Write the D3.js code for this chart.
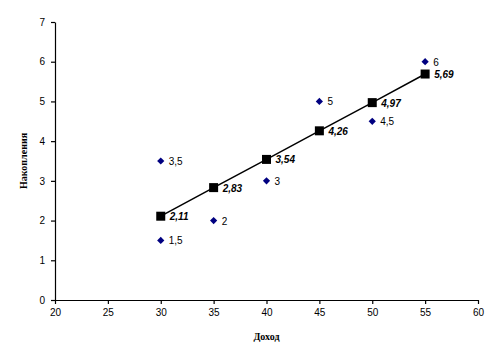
<!DOCTYPE html>
<html>
<head>
<meta charset="utf-8">
<script src="https://cdn.jsdelivr.net/npm/d3@7"></script>
<style>
  body { margin: 0; background: #fff; }
  .tick text { font-family: Arial, "Liberation Sans", sans-serif; font-size: 10px; fill: #000; }
</style>
</head>
<body>
<div id="chart"></div>
<script>
// Observed points
var obsX = [30, 30, 35, 40, 45, 50, 55];
var obsY = [3.5, 1.5, 2, 3, 5, 4.5, 6];
var obsLabels = ["3,5", "1,5", "2", "3", "5", "4,5", "6"];

// Fitted line
var fitX = [30, 35, 40, 45, 50, 55];
var fitY = [2.11, 2.83, 3.54, 4.26, 4.97, 5.69];
var fitLabels = ["2,11", "2,83", "3,54", "4,26", "4,97", "5,69"];

var xTicks = [20, 25, 30, 35, 40, 45, 50, 55, 60];
var yTicks = [0, 1, 2, 3, 4, 5, 6, 7];

var W = 502, H = 359;
var plotLeft = 55, plotRight = 478, plotTop = 22, plotBottom = 300;

var svg = d3.select("#chart").append("svg")
    .attr("width", W).attr("height", H);

var x = d3.scaleLinear().domain([20, 60]).range([plotLeft, plotRight]);
var y = d3.scaleLinear().domain([0, 7]).range([plotBottom, plotTop]);

// axes
svg.append("g")
    .attr("transform", "translate(0," + plotBottom + ")")
    .call(d3.axisBottom(x).tickValues(xTicks).tickFormat(d3.format("d")).tickSize(4).tickSizeOuter(0).tickPadding(5))
    .call(function(g) { g.selectAll("line,path").attr("stroke", "#000").attr("stroke-width", 1.2); });

svg.append("g")
    .attr("transform", "translate(" + plotLeft + ",0)")
    .call(d3.axisLeft(y).tickValues(yTicks).tickFormat(d3.format("d")).tickSize(4).tickSizeOuter(0).tickPadding(6))
    .call(function(g) { g.selectAll("line,path").attr("stroke", "#000").attr("stroke-width", 1.2); });

// axis titles
svg.append("text")
    .attr("x", (plotLeft + plotRight) / 2).attr("y", 340)
    .attr("text-anchor", "middle")
    .style("font-family", "'Liberation Serif', 'Times New Roman', serif")
    .style("font-weight", "bold").style("font-size", "10px")
    .text("Доход");

svg.append("text")
    .attr("transform", "translate(27," + ((plotTop + plotBottom) / 2) + ") rotate(-90)")
    .attr("text-anchor", "middle")
    .style("font-family", "'Liberation Serif', 'Times New Roman', serif")
    .style("font-weight", "bold").style("font-size", "10px")
    .text("Накопления");

// fitted line
var line = d3.line()
    .x(function(d, i) { return x(fitX[i]); })
    .y(function(d, i) { return y(fitY[i]); });

svg.append("path")
    .datum(fitY)
    .attr("d", line)
    .attr("fill", "none")
    .attr("stroke", "#000")
    .attr("stroke-width", 1.5);

svg.selectAll(".fit")
    .data(fitY)
    .enter().append("rect")
    .attr("class", "fit")
    .attr("x", function(d, i) { return x(fitX[i]) - 4.5; })
    .attr("y", function(d) { return y(d) - 4.5; })
    .attr("width", 9).attr("height", 9)
    .attr("fill", "#000");

svg.selectAll(".fitLabel")
    .data(fitLabels)
    .enter().append("text")
    .attr("class", "fitLabel")
    .attr("x", function(d, i) { return x(fitX[i]) + 9; })
    .attr("y", function(d, i) { return y(fitY[i]) + 4; })
    .style("font-family", "Arial, 'Liberation Sans', sans-serif")
    .style("font-weight", "bold").style("font-style", "italic")
    .style("font-size", "10px")
    .text(function(d) { return d; });

// observed points (square turned 45 degrees)
var diamond = d3.symbol().type(d3.symbolSquare).size(26);

svg.selectAll(".obs")
    .data(obsY)
    .enter().append("path")
    .attr("class", "obs")
    .attr("d", diamond)
    .attr("transform", function(d, i) { return "translate(" + x(obsX[i]) + "," + y(d) + ") rotate(45)"; })
    .attr("fill", "#000080");

svg.selectAll(".obsLabel")
    .data(obsLabels)
    .enter().append("text")
    .attr("class", "obsLabel")
    .attr("x", function(d, i) { return x(obsX[i]) + 8; })
    .attr("y", function(d, i) { return y(obsY[i]) + 4; })
    .style("font-family", "Arial, 'Liberation Sans', sans-serif")
    .style("font-size", "10px")
    .text(function(d) { return d; });
</script>
</body>
</html>
